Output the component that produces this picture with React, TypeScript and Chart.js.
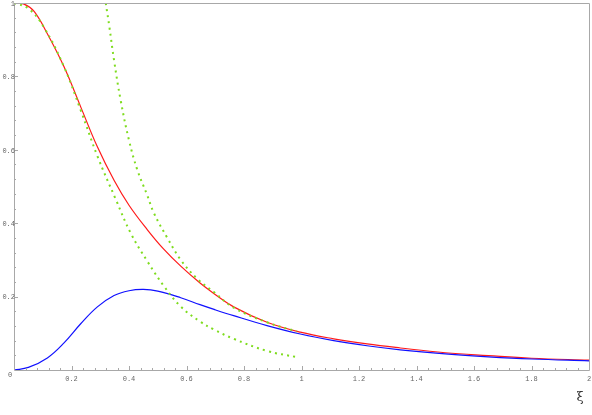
import React, { useEffect, useRef } from "react";
import { Chart, registerables } from "chart.js";

Chart.register(...registerables);

const redX = [0, 0.035, 0.07, 0.116, 0.174, 0.232, 0.29, 0.348, 0.4, 0.464, 0.52, 0.58, 0.647, 0.696, 0.764, 0.88, 0.996, 1.112, 1.228, 1.344, 1.5, 1.65, 1.8, 2.0];
const redY = [1, 0.997, 0.977, 0.916, 0.826, 0.717, 0.608, 0.517, 0.449, 0.382, 0.33, 0.283, 0.237, 0.208, 0.172, 0.13, 0.103, 0.085, 0.071, 0.06, 0.047, 0.039, 0.032, 0.027];

const blueX = [0, 0.05, 0.116, 0.174, 0.232, 0.29, 0.348, 0.4, 0.45, 0.5, 0.58, 0.647, 0.696, 0.764, 0.88, 0.996, 1.112, 1.228, 1.344, 1.5, 1.65, 1.8, 2.0];
const blueY = [0, 0.007, 0.033, 0.074, 0.126, 0.172, 0.203, 0.216, 0.2195, 0.215, 0.197, 0.178, 0.165, 0.148, 0.121, 0.098, 0.08, 0.066, 0.055, 0.044, 0.036, 0.03, 0.025];

const greenLeftX = [0, 0.05, 0.104, 0.174, 0.232, 0.29, 0.354, 0.406, 0.464, 0.522, 0.58, 0.647, 0.696, 0.764, 0.88, 0.984];
const greenLeftY = [1, 0.985, 0.934, 0.826, 0.708, 0.583, 0.465, 0.373, 0.296, 0.228, 0.173, 0.132, 0.11, 0.085, 0.052, 0.035];

const greenRightX = [0.319, 0.331, 0.348, 0.371, 0.4, 0.429, 0.462, 0.487, 0.534, 0.58, 0.638, 0.696, 0.764, 0.88, 0.984];
const greenRightY = [1.0, 0.939, 0.844, 0.735, 0.626, 0.545, 0.479, 0.427, 0.359, 0.3, 0.248, 0.212, 0.17, 0.13, 0.105];

const xTickLabels = ["0.2", "0.4", "0.6", "0.8", "1", "1.2", "1.4", "1.6", "1.8", "2"];
const yTickLabels = ["0.2", "0.4", "0.6", "0.8", "1"];
const axisLabel = "ξ";

const pts = (xs: number[], ys: number[]) => xs.map((x, i) => ({ x, y: ys[i] }));

const axesPlugin = {
  id: "mathAxes",
  afterDatasetsDraw(chart: any) {
    const ctx = chart.ctx;
    const xs = chart.scales.x;
    const ys = chart.scales.y;
    const x0 = xs.getPixelForValue(0);
    const x1 = xs.getPixelForValue(2);
    const y0 = ys.getPixelForValue(0);
    const y1 = ys.getPixelForValue(1);
    ctx.save();
    ctx.strokeStyle = "#a8a8a8";
    ctx.lineWidth = 1;
    ctx.beginPath();
    ctx.rect(Math.round(x0) + 0.5, Math.round(y1) + 0.5, Math.round(x1 - x0), Math.round(y0 - y1));
    ctx.stroke();
    ctx.beginPath();
    for (let i = 1; i < 50; i++) {
      const v = i * 0.04;
      const major = i % 5 === 0;
      const px = Math.round(xs.getPixelForValue(v)) + 0.5;
      const by = Math.round(y0);
      ctx.moveTo(px, by);
      ctx.lineTo(px, by - (major ? 4 : 2));
    }
    for (let i = 1; i < 25; i++) {
      const v = i * 0.04;
      const major = i % 5 === 0;
      const py = Math.round(ys.getPixelForValue(v)) + 0.5;
      const lx = Math.round(x0);
      ctx.moveTo(lx, py);
      ctx.lineTo(lx + (major ? 4 : 2), py);
    }
    ctx.stroke();
    ctx.fillStyle = "#666";
    ctx.font = "7px 'Liberation Mono', monospace";
    ctx.textAlign = "center";
    ctx.textBaseline = "middle";
    xTickLabels.forEach((t) => {
      const v = parseFloat(t);
      ctx.fillText(t, xs.getPixelForValue(v), y0 + 9);
    });
    ctx.fillText("0", x0 - 4, y0 + 5);
    ctx.textAlign = "right";
    yTickLabels.forEach((t) => {
      const v = parseFloat(t);
      ctx.fillText(t, x0 + 1, ys.getPixelForValue(v) + 1);
    });
    ctx.fillStyle = "#333";
    ctx.font = "13px 'DejaVu Serif', serif";
    ctx.textAlign = "center";
    ctx.fillText(axisLabel, 580, 398);
    ctx.restore();
  },
};

export default function App() {
  const ref = useRef<HTMLCanvasElement>(null);
  useEffect(() => {
    document.body.style.margin = "0";
    const common = { pointRadius: 0, tension: 0.4, cubicInterpolationMode: "default" as const };
    const chart = new Chart(ref.current!, {
      type: "line",
      data: {
        datasets: [
          { data: pts(greenLeftX, greenLeftY), borderColor: "#7edc1e", borderWidth: 2, borderDash: [2, 4.2], ...common },
          { data: pts(greenRightX, greenRightY), borderColor: "#7edc1e", borderWidth: 2, borderDash: [2, 4.2], ...common },
          { data: pts(blueX, blueY), borderColor: "#1010ff", borderWidth: 1.2, ...common },
          { data: pts(redX, redY), borderColor: "#ff1a1a", borderWidth: 1.2, ...common },
        ],
      },
      options: {
        animation: false,
        responsive: false,
        events: [],
        layout: { padding: { left: 14, right: 3, top: 3, bottom: 45 } },
        plugins: { legend: { display: false }, tooltip: { enabled: false } },
        scales: {
          x: { type: "linear", min: 0, max: 2, display: false },
          y: { type: "linear", min: 0, max: 1, display: false },
        },
      },
      plugins: [axesPlugin],
    });
    return () => chart.destroy();
  }, []);
  return (
    <div style={{ position: "absolute", left: 0, top: 0, width: 592, height: 415, background: "#fff" }}>
      <canvas ref={ref} width={592} height={415} style={{ width: 592, height: 415 }} />
    </div>
  );
}
